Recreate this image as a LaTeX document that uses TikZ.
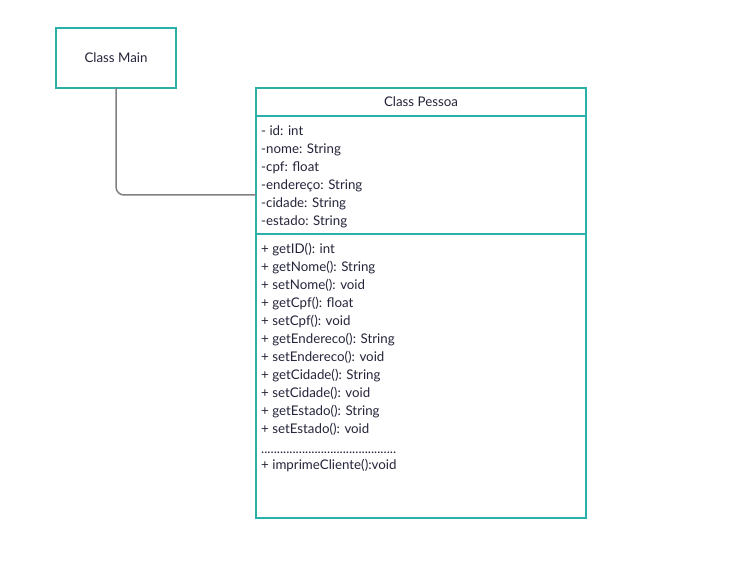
\documentclass[tikz,border=0pt]{standalone}
\usepackage{fontspec}
\setmainfont{Lato}
\usepackage{xcolor}
\definecolor{frame-teal}{HTML}{2BAFA9}
\definecolor{link-gray}{HTML}{808080}
\definecolor{ink}{HTML}{24243A}

\begin{document}
\begin{tikzpicture}[x=1pt, y=1pt,
    every node/.style={font=\fontsize{13.3}{18}\selectfont, text=ink},
    classbox/.style={draw=frame-teal, line width=2pt, inner sep=0pt, outer sep=0pt},
    memberlist/.style={anchor=north west, inner sep=0pt, align=left}]
    \useasboundingbox (0, 0) rectangle (729, -567);
    % class boxes
    \node[classbox, minimum width=120, minimum height=60] (main) at (116, -58)
      {Class Main};
    \node[classbox, minimum width=330, minimum height=28] (pessoa) at (421, -102)
      {Class Pessoa};
    \node[classbox, anchor=north, minimum width=330, minimum height=118] (attrs)
      at (pessoa.south) {};
    \node[classbox, anchor=north, minimum width=330, minimum height=284] (methods)
      at (attrs.south) {};
    % member texts
    \node[memberlist] (attrlist) at ([xshift=5, yshift=-10]attrs.north west)
      {- id: int\\-nome: String\\-cpf: float\\-endereço: String\\-cidade: String\\-estado: String};
    \node[memberlist] (methlist) at ([xshift=5, yshift=-9]methods.north west)
      {+ getID(): int\\+ getNome(): String\\+ setNome(): void\\+ getCpf(): float\\+ setCpf(): void\\
       + getEndereco(): String\\+ setEndereco(): void\\+ getCidade(): String\\+ setCidade(): void\\
       + getEstado(): String\\+ setEstado(): void\\[2pt]
       ...........................................\\[-2pt]
       + imprimeCliente():void};
    % link
    \coordinate (linkend) at ([yshift=-20]attrs.west);
    \draw[link-gray, line width=1.5pt, rounded corners=8pt] (main.south) |- (linkend);
  \end{tikzpicture}
\end{document}
